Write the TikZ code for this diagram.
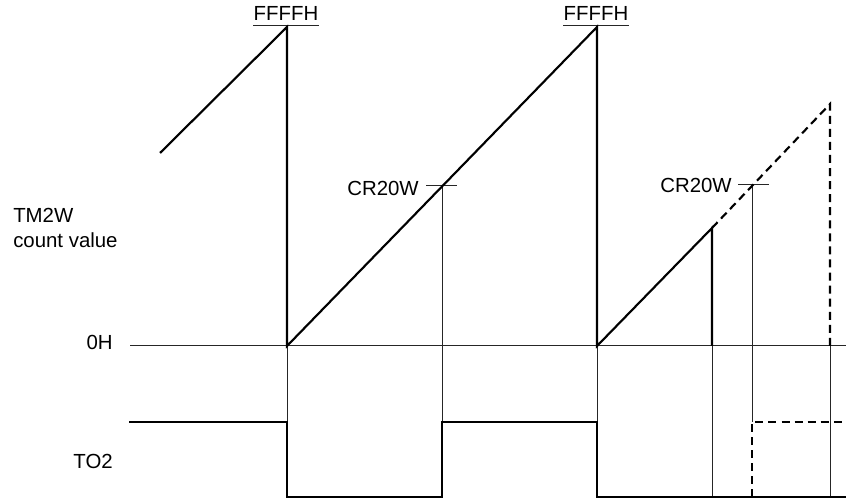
\documentclass[tikz,border=0pt]{standalone}
\usepackage{fontspec}
\setmainfont{Liberation Sans}
\begin{document}
\begin{tikzpicture}[x=0.75pt,y=-0.75pt,
  thickw/.style={line width=1.6pt,line join=miter},
  thinw/.style={line width=0.75pt,black!85},
  dashw/.style={line width=1.6pt,dash pattern=on 6pt off 3.8pt},
  lbl/.style={inner sep=0pt,font=\fontsize{15.3}{18}\selectfont}]
\useasboundingbox (0,0) rectangle (846,498);
% coordinates
\coordinate (s0) at (160,153);
\coordinate (p1) at (287,27);
\coordinate (z1) at (287,346);
\coordinate (p2) at (597,27);
\coordinate (z2) at (597,346);
\coordinate (c1) at (442,186);
\coordinate (m3) at (712,228);
\coordinate (z3) at (712,346);
\coordinate (p3) at (830,104);
\coordinate (z4) at (830,346);
\coordinate (c2) at (752,185);
\coordinate (zl) at (130,346);
\coordinate (zr) at (846,346);
% labels
\node[lbl,anchor=base west] (tm) at (13,223) {TM2W};
\node[lbl,anchor=base west] (cv) at (13,248) {count value};
\node[lbl,anchor=base east] (oh) at (113,350) {0H};
\node[lbl,anchor=base east] (to) at (113,469) {TO2};
\node[lbl,anchor=base] (f1) at (286,21) {FFFFH};
\node[lbl,anchor=base] (f2) at (596,21) {FFFFH};
\node[lbl,anchor=base east] (cr1) at (419,196) {CR20W};
\node[lbl,anchor=base east] (cr2) at (732,193) {CR20W};
% underlines
\draw[thinw] ([yshift=-3.5pt]f1.south west) -- ([yshift=-3.5pt]f1.south east);
\draw[thinw] ([yshift=-3.5pt]f2.south west) -- ([yshift=-3.5pt]f2.south east);
% zero line
\draw[thinw] (zl) -- (zr);
% thin verticals
\draw[thinw] (c1) -- (442,422);
\draw[thinw] (c2) -- (752,422);
\draw[thinw] (z1) -- (287,422);
\draw[thinw] (z2) -- (597,422);
\draw[thinw] (z3) -- (712,497);
\draw[thinw] (z4) -- (830,497);
% ticks
\draw[thinw] (426,186) -- (457,186);
\draw[thinw] (738,185) -- (769,185);
% sawtooth
\draw[thickw] (s0) -- (p1) -- (z1) -- (p2) -- (z2) -- (m3) -- (z3);
\draw[dashw] (m3) -- (p3) -- (z4);
% TO2 waveform
\draw[thickw] (129,422) -- (287,422) -- (287,497) -- (442,497) -- (442,422) -- (597,422) -- (597,497) -- (846,497);
\draw[dashw] (752,497) -- (752,422) -- (846,422);
\end{tikzpicture}
\end{document}
